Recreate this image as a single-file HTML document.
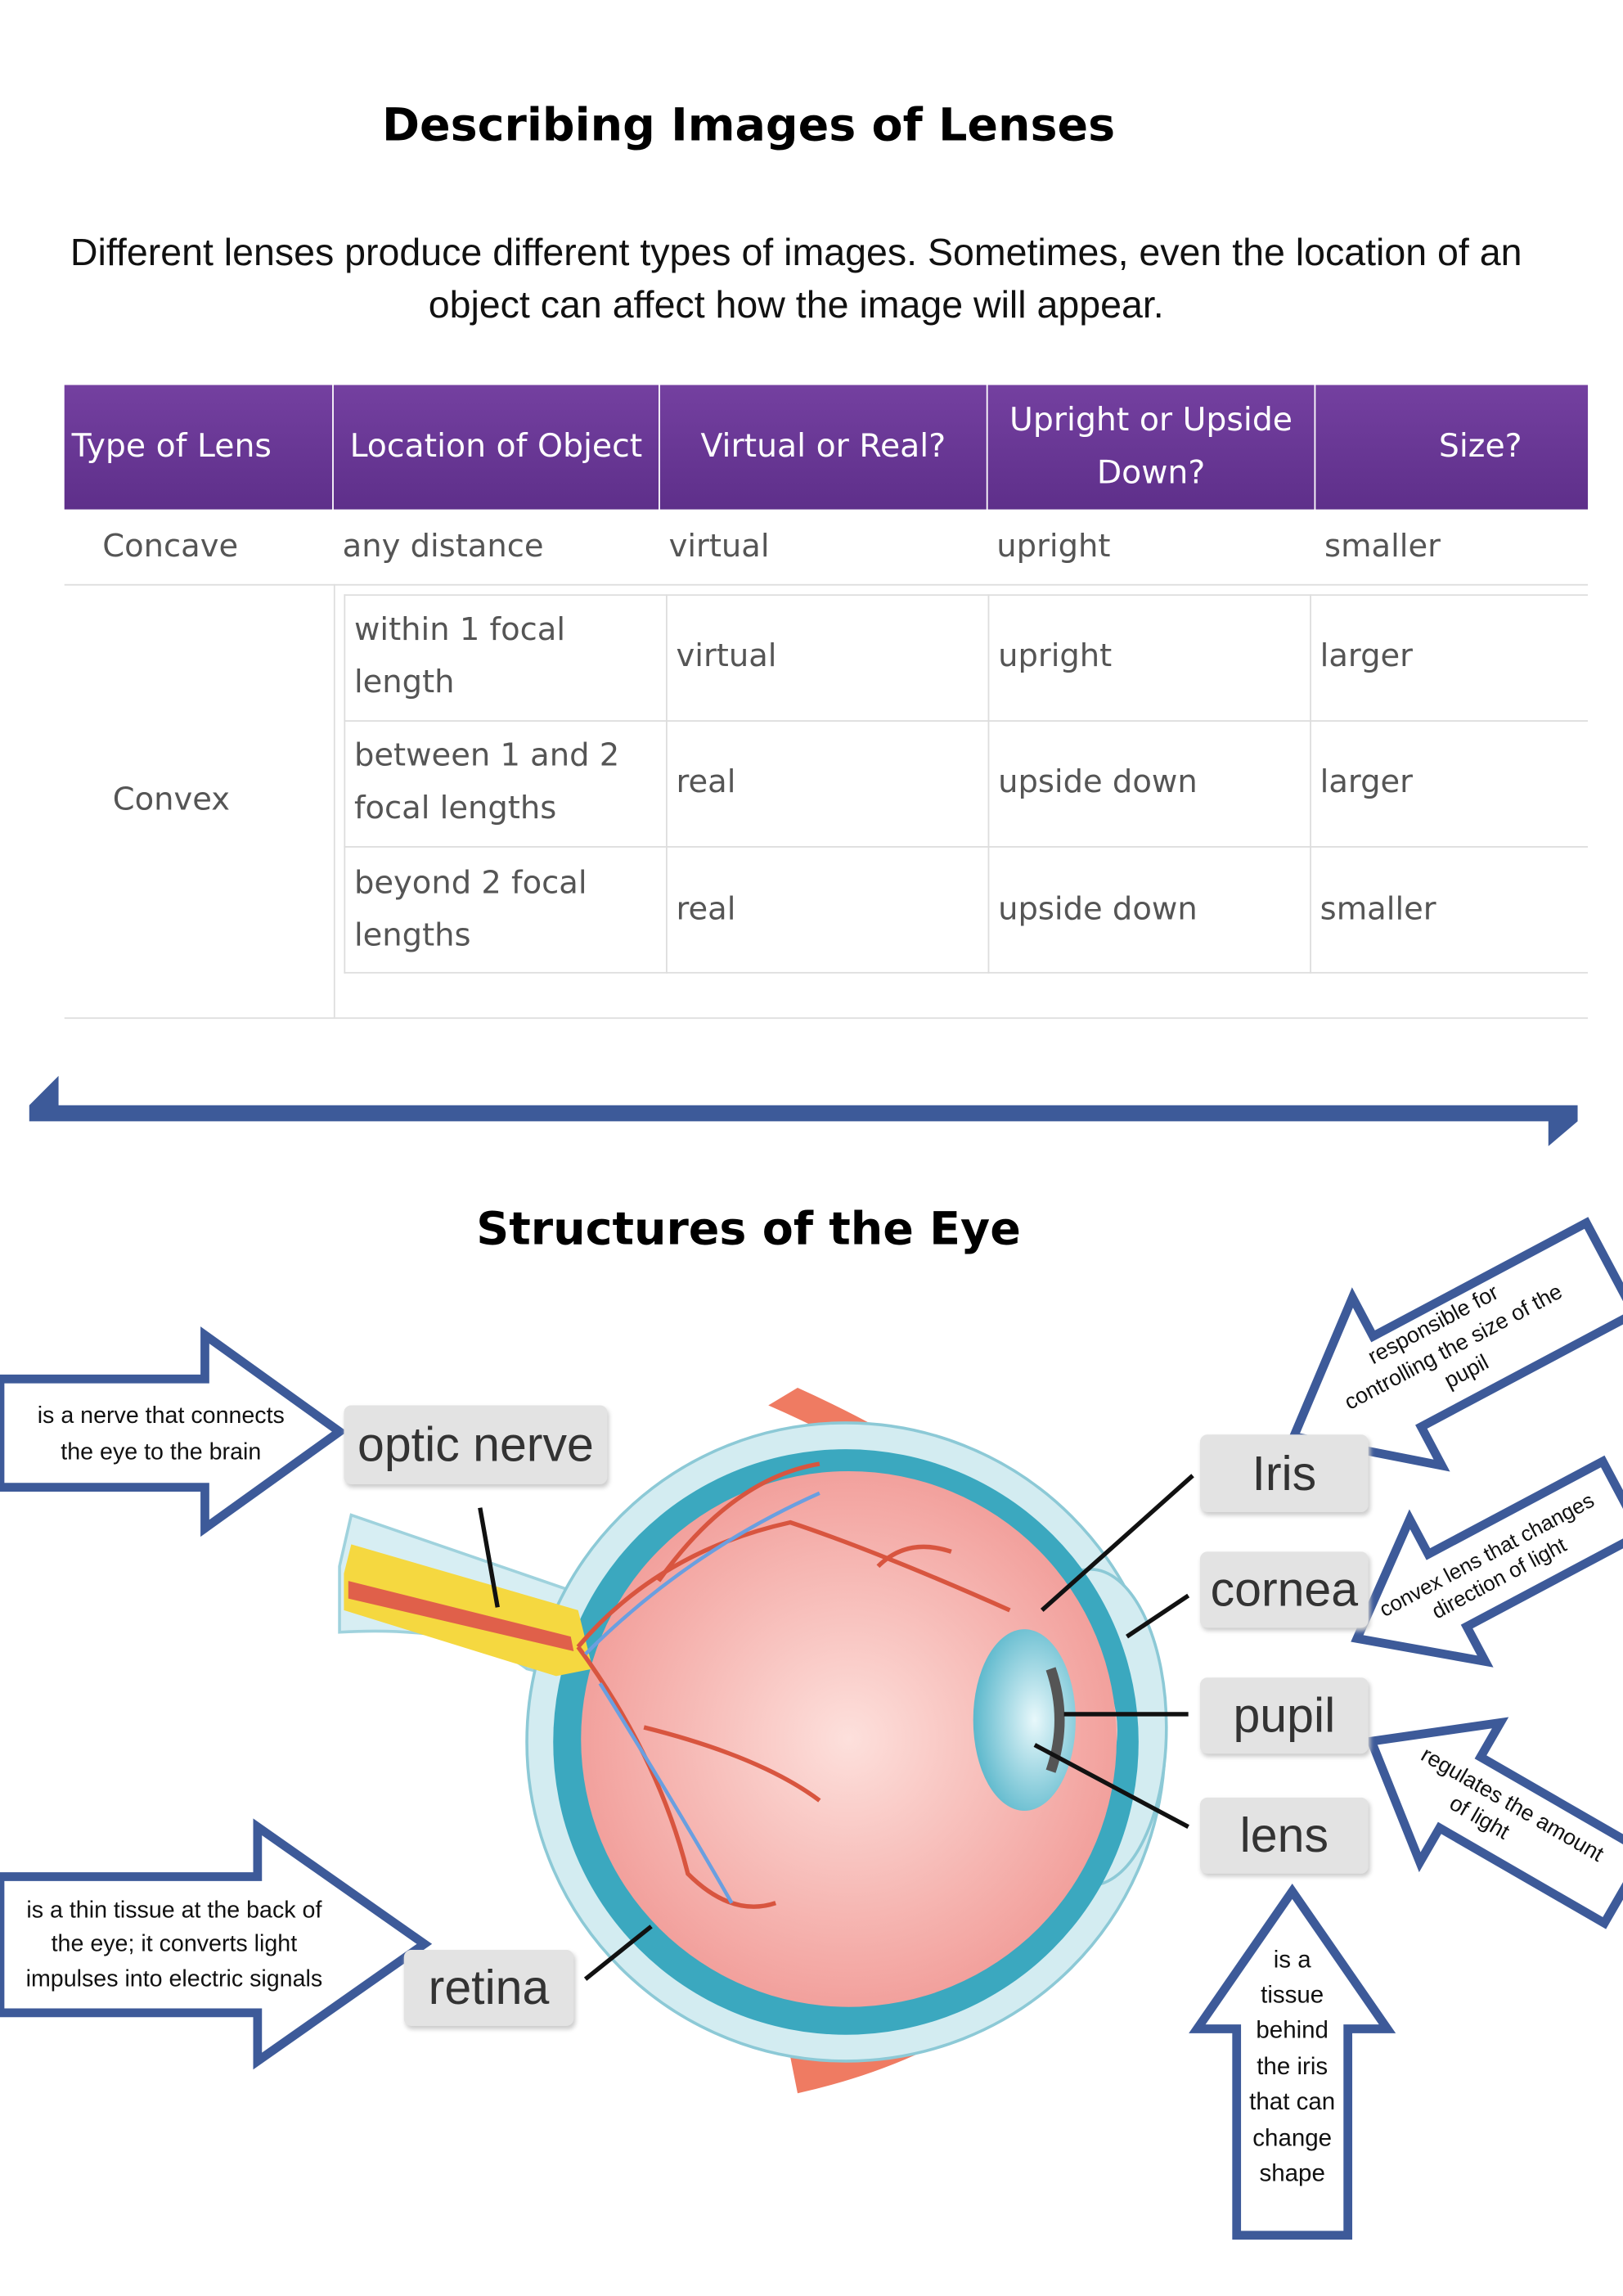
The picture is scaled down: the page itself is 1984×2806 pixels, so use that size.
<!DOCTYPE html>
<html><head><meta charset="utf-8"><style>
html,body{margin:0;padding:0;background:#fff;}
body{width:1984px;height:2806px;overflow:hidden;position:relative;}
#w{position:absolute;left:0;top:0;width:1109px;height:1568px;transform:scale(1.789);transform-origin:0 0;font-family:"Liberation Sans",sans-serif;}
.a{position:absolute;}
h1{position:absolute;margin:0;font-family:"DejaVu Sans",sans-serif;font-weight:900;font-size:31px;width:1109px;text-align:center;}
.p{position:absolute;left:0;width:1088px;text-align:center;font-size:26px;line-height:36px;color:#111;}
.th{position:absolute;top:263px;height:85px;background:linear-gradient(#7440a0,#5e2f8a);color:#fff;font-family:"DejaVu Sans",sans-serif;font-size:22px;display:flex;align-items:center;line-height:36px;box-sizing:border-box;}
.td{position:absolute;font-family:"DejaVu Sans",sans-serif;font-size:21.5px;color:#555;line-height:36px;display:flex;align-items:center;box-sizing:border-box;padding-left:7px;}
.lbl{position:absolute;background:#e3e3e3;border-radius:5px;font-size:33px;color:#333;display:flex;align-items:center;justify-content:center;box-shadow:1px 2px 3px #ccc;}
</style></head><body><div id="w">
<h1 style="top:68px;left:-43px">Describing Images of Lenses</h1>
<div class="p" style="top:154px">Different lenses produce different types of images. Sometimes, even the location of an<br>object can affect how the image will appear.</div>

<div class="th" style="left:44px;width:183px;padding-left:5px">Type of Lens</div>
<div class="th" style="left:228px;width:222px;padding-left:11px">Location of Object</div>
<div class="th" style="left:451px;width:223px;justify-content:center">Virtual or Real?</div>
<div class="th" style="left:675px;width:223px;justify-content:center;text-align:center">Upright or Upside<br>Down?</div>
<div class="th" style="left:899px;width:186px;justify-content:flex-end;padding-right:45px">Size?</div>

<div class="td" style="left:63px;top:348px;height:51px">Concave</div>
<div class="td" style="left:227px;top:348px;height:51px">any distance</div>
<div class="td" style="left:450px;top:348px;height:51px">virtual</div>
<div class="td" style="left:674px;top:348px;height:51px">upright</div>
<div class="td" style="left:898px;top:348px;height:51px">smaller</div>
<div class="a" style="left:44px;top:399px;width:1041px;height:1px;background:#ddd"></div>
<div class="a" style="left:228px;top:399px;width:1px;height:296px;background:#ddd"></div>
<div class="a" style="left:44px;top:695px;width:1041px;height:1px;background:#ddd"></div>
<div class="td" style="left:70px;top:399px;height:296px">Convex</div>
<div class="a" style="left:235px;top:406px;width:850px;height:259px;border:1px solid #ddd;border-right:none;box-sizing:border-box"></div>
<div class="a" style="left:235px;top:492px;width:850px;height:1px;background:#ddd"></div>
<div class="a" style="left:235px;top:578px;width:850px;height:1px;background:#ddd"></div>
<div class="a" style="left:455px;top:406px;width:1px;height:259px;background:#ddd"></div>
<div class="a" style="left:675px;top:406px;width:1px;height:259px;background:#ddd"></div>
<div class="a" style="left:895px;top:406px;width:1px;height:259px;background:#ddd"></div>
<div class="td" style="left:235px;top:406px;height:86px">within 1 focal<br>length</div>
<div class="td" style="left:455px;top:406px;height:86px">virtual</div>
<div class="td" style="left:675px;top:406px;height:86px">upright</div>
<div class="td" style="left:895px;top:406px;height:86px">larger</div>
<div class="td" style="left:235px;top:492px;height:86px">between 1 and 2<br>focal lengths</div>
<div class="td" style="left:455px;top:492px;height:86px">real</div>
<div class="td" style="left:675px;top:492px;height:86px">upside down</div>
<div class="td" style="left:895px;top:492px;height:86px">larger</div>
<div class="td" style="left:235px;top:578px;height:87px">beyond 2 focal<br>lengths</div>
<div class="td" style="left:455px;top:578px;height:87px">real</div>
<div class="td" style="left:675px;top:578px;height:87px">upside down</div>
<div class="td" style="left:895px;top:578px;height:87px">smaller</div>

<svg class="a" style="left:0;top:0" width="1109" height="1568">
<polygon points="20,755 40,735 40,755 1078,755 1078,766 1058,783 1058,766 20,766" fill="#3d5a99"/>
</svg>
<h1 style="top:822px;left:-43px">Structures of the Eye</h1>

<svg class="a" style="left:0;top:0" width="1109" height="1568">
<defs><radialGradient id="pk" cx="0.5" cy="0.5" r="0.55"><stop offset="0" stop-color="#fde0dc"/><stop offset="1" stop-color="#f19a96"/></radialGradient>
<radialGradient id="ln" cx="0.6" cy="0.5" r="0.6"><stop offset="0" stop-color="#e8f8fb"/><stop offset="1" stop-color="#5cb8cc"/></radialGradient></defs>
<!-- muscles -->
<path d="M525,960 L545,948 Q660,1000 740,1075 L720,1090 Q640,1010 525,960Z" fill="#ef7b62"/>
<path d="M540,1405 L545,1430 Q680,1400 760,1300 L740,1290 Q660,1390 540,1405Z" fill="#ef7b62"/>
<!-- optic nerve sheath -->
<path d="M232,1070 L240,1035 L400,1090 L400,1150 L360,1140 Q320,1110 232,1115Z" fill="#d7eef3" stroke="#9fd2dd" stroke-width="2"/>
<!-- sclera -->
<circle cx="578" cy="1190" r="218" fill="#d3ecf1" stroke="#8cc9d6" stroke-width="2"/>
<ellipse cx="745" cy="1180" rx="52" ry="108" fill="#d3ecf1" stroke="#8cc9d6" stroke-width="2"/>
<circle cx="578" cy="1190" r="200" fill="#3ba8bf"/>
<path d="M722,1105 Q805,1180 722,1262 Q775,1185 722,1105Z" fill="#f6c4c0"/>
<circle cx="580" cy="1188" r="183" fill="url(#pk)"/>
<!-- nerve -->
<path d="M235,1075 L240,1055 L395,1100 L405,1140 L380,1145 L235,1100Z" fill="#f5d840"/>
<path d="M238,1080 L390,1118 L392,1128 L238,1092Z" fill="#e0604a"/>
<!-- vessels -->
<g fill="none" stroke="#d8553f" stroke-width="3">
<path d="M395,1125 Q450,1060 540,1040 Q600,1060 690,1100"/><path d="M450,1080 Q500,1010 560,1000"/>
<path d="M395,1125 Q450,1200 470,1280 Q500,1310 530,1300"/><path d="M440,1180 Q520,1200 560,1230"/><path d="M600,1070 Q620,1050 650,1060"/>
</g>
<g fill="none" stroke="#6a9fe0" stroke-width="2.5"><path d="M400,1130 Q470,1060 560,1020"/><path d="M410,1150 Q460,1230 500,1300"/></g>
<!-- lens -->
<ellipse cx="700" cy="1175" rx="35" ry="62" fill="url(#ln)"/>
<path d="M718,1140 Q730,1175 718,1210" stroke="#555" stroke-width="7" fill="none"/>
<g stroke="#111" stroke-width="3">
<line x1="328" y1="1030" x2="340" y2="1098"/><line x1="815" y1="1008" x2="712" y2="1100"/>
<line x1="812" y1="1090" x2="770" y2="1118"/><line x1="812" y1="1171" x2="727" y2="1171"/>
<line x1="812" y1="1248" x2="707" y2="1192"/><line x1="445" y1="1316" x2="400" y2="1352"/>
</g>
<!-- arrows -->
<g fill="#fff" stroke="#3d5a99" stroke-width="6" stroke-linejoin="miter">
<polygon points="0,942 140,942 140,912 232,978 140,1044 140,1016 0,1016"/>
<polygon points="0,1282 176,1282 176,1248 290,1328 176,1408 176,1375 0,1375"/>
<polygon points="883,1292 948,1386 921,1386 921,1527 845,1527 845,1386 818,1386"/>
<g transform="translate(990,925) rotate(-28)"><polygon points="-120,0 -40,-65 -40,-35 125,-35 125,35 -40,35 -40,65"/></g>
<g transform="translate(1020,1070) rotate(-28)"><polygon points="-105,0 -35,-55 -35,-28 100,-28 100,28 -35,28 -35,55"/></g>
<g transform="translate(1028,1242) rotate(30)"><polygon points="-105,0 -35,-55 -35,-28 95,-28 95,28 -35,28 -35,55"/></g>
</g>
<g font-family="Liberation Sans,sans-serif" font-size="16" fill="#111" text-anchor="middle">
<text x="110" y="972">is a nerve that connects</text><text x="110" y="997">the eye to the brain</text>
<text x="119" y="1310">is a thin tissue at the back of</text><text x="119" y="1333">the eye; it converts light</text><text x="119" y="1357">impulses into electric signals</text>
<g font-size="16.5"><text x="883" y="1344">is a</text><text x="883" y="1368">tissue</text><text x="883" y="1392">behind</text><text x="883" y="1417">the iris</text><text x="883" y="1441">that can</text><text x="883" y="1466">change</text><text x="883" y="1490">shape</text></g>
<g transform="translate(990,925) rotate(-28)" font-size="15"><text x="0" y="-18">responsible for</text><text x="5" y="2">controlling the size of the</text><text x="5" y="21">pupil</text></g>
<g transform="translate(1020,1070) rotate(-28)" font-size="14.5"><text x="0" y="-4">convex lens that changes</text><text x="0" y="14">direction of light</text></g>
<g transform="translate(1028,1242) rotate(30)" font-size="15"><text x="0" y="-6">regulates  the amount</text><text x="-15" y="13">of light</text></g>
</g>
</svg>
<div class="lbl" style="left:235px;top:960px;width:180px;height:54px">optic nerve</div>
<div class="lbl" style="left:820px;top:980px;width:115px;height:53px">Iris</div>
<div class="lbl" style="left:820px;top:1060px;width:115px;height:52px">cornea</div>
<div class="lbl" style="left:820px;top:1146px;width:115px;height:52px">pupil</div>
<div class="lbl" style="left:820px;top:1228px;width:115px;height:52px">lens</div>
<div class="lbl" style="left:276px;top:1332px;width:116px;height:52px">retina</div>
</div></body></html>
